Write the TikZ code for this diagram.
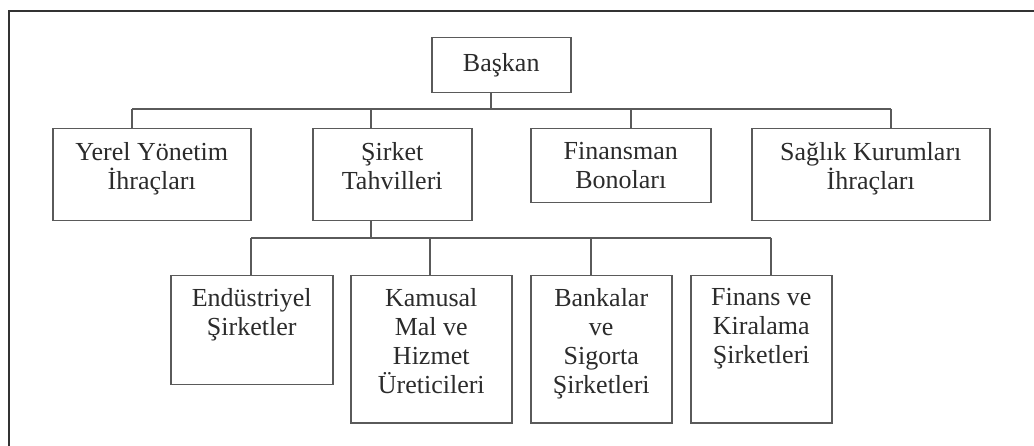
\documentclass[tikz,border=0pt]{standalone}
\usepackage{fontspec}
\setmainfont{Liberation Serif}
\definecolor{linegray}{HTML}{5A5A5A}
\definecolor{textgray}{HTML}{2B2B2B}
\tikzset{
  orgbox/.style={draw=linegray, line width=1.5pt, anchor=north west, inner sep=0pt},
  orgtext/.style={anchor=north, inner sep=0pt, align=center, text=textgray,
    font=\fontsize{26}{29}\selectfont},
  orgline/.style={draw=linegray, line width=1.5pt}
}
\begin{document}
\begin{tikzpicture}[x=1pt, y=-1pt]
\useasboundingbox (0,0) rectangle (1034,446);
\draw[line width=1.8pt, black!80] (9,446) -- (9,11) -- (1034,11);

\node[orgbox, minimum width=139pt, minimum height=55pt] (baskan) at (431,37) {};
\node[orgtext, anchor=center] (baskan-t) at (baskan) {Başkan};

\node[orgbox, minimum width=198pt, minimum height=92pt] (yerel) at (52,128) {};
\node[orgbox, minimum width=159pt, minimum height=92pt] (sirket) at (312,128) {};
\node[orgbox, minimum width=180pt, minimum height=74pt] (finansman) at (530,128) {};
\node[orgbox, minimum width=238pt, minimum height=92pt] (saglik) at (751,128) {};
\node[orgtext] (yerel-t) at ([yshift=-14pt]yerel.north) {Yerel Yönetim\\İhraçları};
\node[orgtext] (sirket-t) at ([yshift=-14pt]sirket.north) {Şirket\\Tahvilleri};
\node[orgtext] (finansman-t) at ([yshift=-14pt]finansman.north) {Finansman\\Bonoları};
\node[orgtext] (saglik-t) at ([yshift=-14pt]saglik.north) {Sağlık Kurumları\\İhraçları};

\node[orgbox, minimum width=162pt, minimum height=109pt] (endustri) at (170,275) {};
\node[orgbox, minimum width=161pt, minimum height=147pt] (kamusal) at (350,275) {};
\node[orgbox, minimum width=141pt, minimum height=147pt] (bankalar) at (530,275) {};
\node[orgbox, minimum width=141pt, minimum height=147pt] (finans) at (690,275) {};
\node[orgtext] (endustri-t) at ([yshift=-13pt]endustri.north) {Endüstriyel\\Şirketler};
\node[orgtext] (kamusal-t) at ([yshift=-13pt]kamusal.north) {Kamusal\\Mal ve\\Hizmet\\Üreticileri};
\node[orgtext] (bankalar-t) at ([yshift=-13pt]bankalar.north) {Bankalar\\ve\\Sigorta\\Şirketleri};
\node[orgtext] (finans-t) at ([yshift=-13pt]finans.north) {Finans ve\\Kiralama\\Şirketleri};

\coordinate (b0) at (491,109);
\coordinate (b1) at (132,109);
\coordinate (b2) at (371,109);
\coordinate (b3) at (631,109);
\coordinate (b4) at (891,109);
\draw[orgline] (baskan.south -| b0) -- (b0);
\draw[orgline] (b1) -- (b4);
\foreach \c/\n in {b1/yerel, b2/sirket, b3/finansman, b4/saglik}
  \draw[orgline] (\c) -- (\c |- \n.north);

\coordinate (c0) at (371,238);
\coordinate (c1) at (251,238);
\coordinate (c2) at (430,238);
\coordinate (c3) at (591,238);
\coordinate (c4) at (771,238);
\draw[orgline] (sirket.south -| c0) -- (c0);
\draw[orgline] (c1) -- (c4);
\foreach \c/\n in {c1/endustri, c2/kamusal, c3/bankalar, c4/finans}
  \draw[orgline] (\c) -- (\c |- \n.north);
\end{tikzpicture}
\end{document}
